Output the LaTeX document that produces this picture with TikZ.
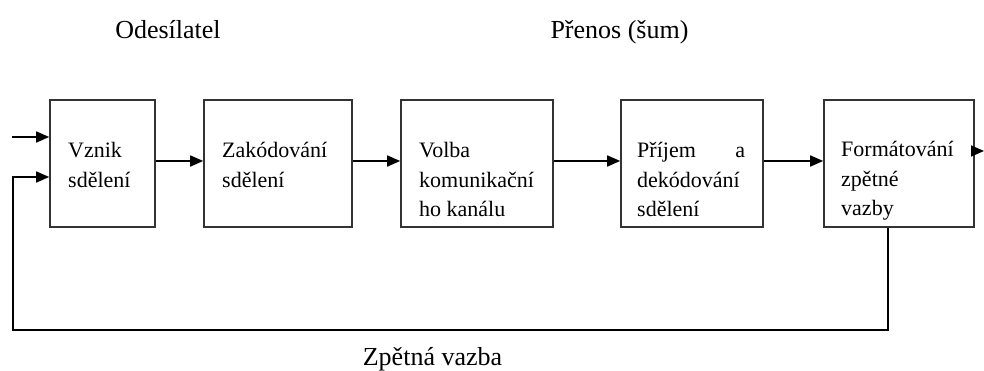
\documentclass[tikz,border=0pt]{standalone}
\usepackage{fontspec}
\setmainfont{Liberation Serif}
\usetikzlibrary{arrows.meta}

\begin{document}
\begin{tikzpicture}[
        x=1pt, y=1pt,
        box/.style={
            draw=black!80,
            line width=1.6pt,
            inner sep=0pt,
            minimum height=127pt
        },
        txt/.style={
            anchor=base west,
            inner sep=0pt,
            align=left,
            font=\fontsize{22}{29.5}\selectfont
        },
        lbl/.style={
            anchor=base,
            inner sep=0pt,
            font=\fontsize{26}{30}\selectfont
        },
        arr/.style={
            draw=black,
            line width=1.6pt,
            -{Triangle[length=13pt,width=11pt]}
        }
    ]
    \useasboundingbox (0,0) rectangle (984,371);

    % Bloky
    \node[box, minimum width=105pt] (b1) at (102.5,207.5) {};
    \node[box, minimum width=148pt] (b2) at (278,207.5) {};
    \node[box, minimum width=152pt] (b3) at (477,207.5) {};
    \node[box, minimum width=142pt] (b4) at (692,207.5) {};
    \node[box, minimum width=150pt] (b5) at (899,207.5) {};

    % Texty v blocích (base = poslední řádek)
    \node[txt] (t1) at (68,183.5) {Vznik\\sdělení};
    \node[txt] (t2) at (222,183.5) {Zakódování\\sdělení};
    \node[txt] (t3) at (419,154) {Volba\\komunikační\\ho kanálu};
    \node[txt] (t4) at (637,154) {\makebox[108pt][l]{Příjem\hfill a}\\dekódování\\sdělení};
    \node[txt] (t5) at (841,155) {Formátování\\zpětné\\vazby};

    % Popisky
    \node[lbl] (odes) at (168,332) {Odesílatel};
    \node[lbl] (pren) at (619.5,332) {Přenos (šum)};
    \node[lbl] (zpet) at (432.5,5) {Zpětná vazba};

    % Body spojnic
    \coordinate (in1) at (12,234);
    \coordinate (in2) at (13,194);
    \coordinate (fbl) at (13,41);
    \coordinate (fbr) at (888,41);
    \coordinate (out) at (984,220);

    % Spojnice
    \draw[arr] (in1) -- (in1 -| b1.west);
    \draw[arr] ([yshift=2.5pt]b1.east) -- ([yshift=2.5pt]b2.west);
    \draw[arr] ([yshift=2.5pt]b2.east) -- ([yshift=2.5pt]b3.west);
    \draw[arr] ([yshift=2.5pt]b3.east) -- ([yshift=2.5pt]b4.west);
    \draw[arr] ([yshift=2.5pt]b4.east) -- ([yshift=2.5pt]b5.west);
    \draw[arr] ([yshift=12.5pt]b5.east) -- (out);
    \draw[arr] (fbr |- b5.south) -- (fbr) -- (fbl) -- (in2) -- (in2 -| b1.west);

    \end{tikzpicture}
\end{document}
